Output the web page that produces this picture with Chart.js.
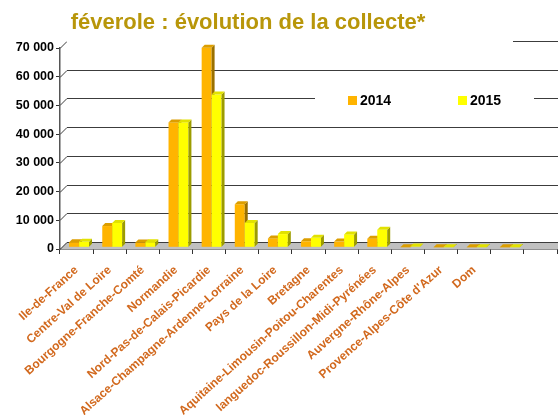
<!DOCTYPE html>
<html lang="fr">
<head>
<meta charset="UTF-8">
<title>féverole : évolution de la collecte</title>
<script src="https://cdn.jsdelivr.net/npm/chart.js"></script>
<style>
    html, body { margin: 0; padding: 0; background: #ffffff; overflow: hidden; }
    #wrap { width: 558px; height: 415px; overflow: hidden; }
</style>
</head>
<body>
<div id="wrap"><canvas id="collecte" width="570" height="415"></canvas></div>
<script>
const regions = [
    "Ile-de-France", "Centre-Val de Loire", "Bourgogne-Franche-Comté", "Normandie",
    "Nord-Pas-de-Calais-Picardie", "Alsace-Champagne-Ardenne-Lorraine", "Pays de la Loire",
    "Bretagne", "Aquitaine-Limousin-Poitou-Charentes", "languedoc-Roussillon-Midi-Pyrénées",
    "Auvergne-Rhône-Alpes", "Provence-Alpes-Côte d'Azur", "Dom", "", ""
];
const collecte2014 = [1800, 7400, 1700, 43500, 69500, 15000, 3100, 2100, 2000, 3000, 60, 30, 30, 30, null];
const collecte2015 = [1900, 8500, 1800, 43500, 53200, 8500, 4600, 3300, 4500, 6100, 300, 60, 60, 60, null];
const yTicks = [0, 10000, 20000, 30000, 40000, 50000, 60000, 70000];

const titre = "féverole : évolution de la collecte*";
const annees = ["2014", "2015"];
// face avant, dessus, côté
const couleurs = [
    { front: "#ffb400", top: "#dc9e00", side: "#9a7000" },
    { front: "#ffff00", top: "#e2e200", side: "#9c9c00" }
];

const FONT = "Arial, 'Liberation Sans', sans-serif";
const MUR_X = 7, MUR_Y = 7;     // profondeur du mur du fond
const BARRE_X = 3, BARRE_Y = 3; // profondeur des barres
const DECAL_X = 2.5, DECAL_Y = 1.7;

function milliers(v) {
    return v.toString().replace(/\B(?=(\d{3})+(?!\d))/g, " ");
}

const effet3d = {
    id: "effet3d",
    beforeDatasetsDraw(chart) {
        const { ctx, chartArea: a, scales: { y } } = chart;
        ctx.save();
        // sol gris
        ctx.fillStyle = "#c0c0c0";
        ctx.beginPath();
        ctx.moveTo(a.left, a.bottom);
        ctx.lineTo(a.right + 40, a.bottom);
        ctx.lineTo(a.right + 40, a.bottom - MUR_Y);
        ctx.lineTo(a.left + MUR_X, a.bottom - MUR_Y);
        ctx.closePath();
        ctx.fill();
        // lignes de quadrillage en perspective
        ctx.strokeStyle = "#3c3c3c";
        ctx.lineWidth = 1;
        yTicks.forEach(v => {
            const py = Math.round(y.getPixelForValue(v)) + 0.5;
            ctx.beginPath();
            ctx.moveTo(a.left, py);
            ctx.lineTo(a.left + MUR_X, py - MUR_Y);
            ctx.lineTo(a.right + 40, py - MUR_Y);
            ctx.stroke();
        });
        ctx.restore();
    },
    beforeDatasetDraw() {
        return false;
    },
    afterDatasetsDraw(chart) {
        const ctx = chart.ctx;
        const metas = [chart.getDatasetMeta(0), chart.getDatasetMeta(1)];
        ctx.save();
        for (let i = 0; i < regions.length; i++) {
            metas.forEach((meta, d) => {
                const bar = meta.data[i];
                if (!bar || chart.data.datasets[d].data[i] == null) return;
                const { x, y, base, width } = bar.getProps(["x", "y", "base", "width"], true);
                const l = x - width / 2 + DECAL_X, r = x + width / 2 + DECAL_X;
                const t = y - DECAL_Y, b = base - DECAL_Y;
                const c = couleurs[d];
                ctx.fillStyle = c.front;
                ctx.fillRect(l, t, r - l, b - t);
                ctx.fillStyle = c.side;
                ctx.beginPath();
                ctx.moveTo(r, t);
                ctx.lineTo(r + BARRE_X, t - BARRE_Y);
                ctx.lineTo(r + BARRE_X, b - BARRE_Y);
                ctx.lineTo(r, b);
                ctx.closePath();
                ctx.fill();
                ctx.fillStyle = c.top;
                ctx.beginPath();
                ctx.moveTo(l, t);
                ctx.lineTo(r, t);
                ctx.lineTo(r + BARRE_X, t - BARRE_Y);
                ctx.lineTo(l + BARRE_X, t - BARRE_Y);
                ctx.closePath();
                ctx.fill();
            });
        }
        ctx.restore();
    },
    afterDraw(chart) {
        const ctx = chart.ctx;
        ctx.save();
        // titre sur fond blanc
        ctx.fillStyle = "#ffffff";
        ctx.fillRect(67, 0, 446, 43);
        ctx.fillStyle = "#b8960a";
        ctx.font = "bold 22px " + FONT;
        ctx.textAlign = "center";
        ctx.textBaseline = "alphabetic";
        ctx.fillText(titre, 248, 29);
        // légende
        ctx.fillStyle = "#ffffff";
        ctx.fillRect(315, 84, 219, 28);
        ctx.font = "bold 14px " + FONT;
        ctx.textAlign = "left";
        annees.forEach((an, d) => {
            const x0 = d === 0 ? 348 : 458;
            ctx.fillStyle = couleurs[d].front;
            ctx.fillRect(x0, 96, 9, 9);
            ctx.fillStyle = "#000000";
            ctx.fillText(an, x0 + 12, 105);
        });
        ctx.restore();
    }
};

new Chart(document.getElementById("collecte"), {
    type: "bar",
    data: {
        labels: regions,
        datasets: [
            { label: annees[0], data: collecte2014, backgroundColor: couleurs[0].front },
            { label: annees[1], data: collecte2015, backgroundColor: couleurs[1].front }
        ]
    },
    options: {
        responsive: false,
        animation: false,
        categoryPercentage: 0.6,
        barPercentage: 1.0,
        layout: { padding: { top: 48, right: 13, bottom: 0, left: 0 } },
        plugins: {
            legend: { display: false },
            title: { display: false },
            tooltip: { enabled: false }
        },
        scales: {
            x: {
                grid: { display: true, drawOnChartArea: false, offset: true, tickLength: 5, color: "#333333" },
                border: { display: true, color: "#222222", width: 1.5 },
                ticks: {
                    autoSkip: false,
                    minRotation: 42,
                    maxRotation: 42,
                    padding: 9,
                    color: "#d2691e",
                    font: { family: FONT, size: 12, weight: "bold" }
                },
                afterFit(scale) { scale.height = 415 - 249; }
            },
            y: {
                min: 0,
                max: 70000,
                grid: { display: true, drawOnChartArea: false, tickLength: 4, color: "#333333" },
                border: { display: true, color: "#555555", width: 1.5 },
                ticks: {
                    stepSize: 10000,
                    padding: 2,
                    color: "#000000",
                    font: { family: FONT, size: 12.5, weight: "bold" },
                    callback: v => milliers(v)
                },
                afterFit(scale) { scale.width = 60; }
            }
        }
    },
    plugins: [effet3d]
});
</script>
</body>
</html>
